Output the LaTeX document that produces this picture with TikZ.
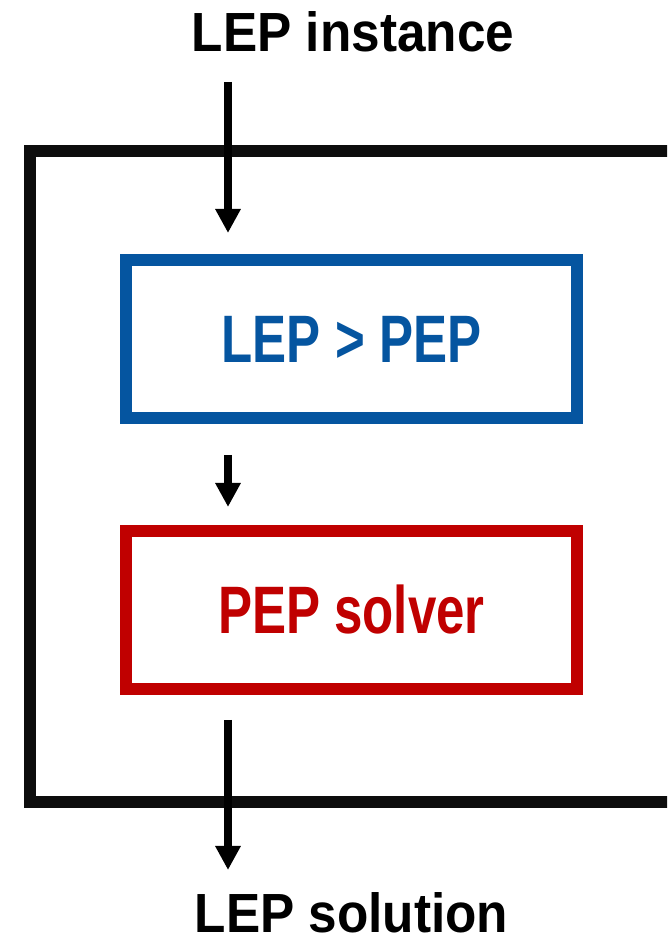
\documentclass[tikz,border=0pt]{standalone}
\usepackage{fontspec}
\usepackage{tikz}
\usetikzlibrary{arrows.meta, positioning}
\newfontfamily\lblfont[FakeStretch=0.93]{Liberation Sans}
\newfontfamily\boxfont[FakeStretch=0.76]{Liberation Sans}
\definecolor{mBlue}{HTML}{0555A0}
\definecolor{mRed}{HTML}{C00000}
\definecolor{mFrame}{HTML}{0D0D0D}

\begin{document}
\begin{tikzpicture}[>={Triangle[length=2.4mm, width=2.4mm]},
      flow/.style={->, line width=0.8mm},
      stage/.style={draw, line width=1.2mm, minimum width=4.51cm,
                    minimum height=1.58cm, inner sep=0pt,
                    font=\boxfont\bfseries\fontsize{19.1}{20}\selectfont,
                    text height=0.48cm, text depth=0pt},
      io/.style={font=\lblfont\bfseries\fontsize{15.7}{17}\selectfont, anchor=base}]
    \useasboundingbox (0,0) rectangle (6.67,9.48);
    \clip (0,0) rectangle (6.67,9.48);
    % outer frame, open past the right edge
    \draw[mFrame, line width=1.2mm] (7.2,1.46) -- (0.30,1.46) -- (0.30,7.97) -- (7.2,7.97);

    \node[io] (inst) at (3.53,8.96) {LEP instance};
    \node[stage, mBlue] (conv) at (3.515,6.09) {LEP > PEP};
    \node[stage, mRed, below=1.01cm of conv] (solve) {PEP solver};
    \node[io] (sol) at (3.515,0.15) {LEP solution};

    \coordinate (in1) at (2.28,8.66);
    \coordinate (in2) at (2.28,7.15);
    \coordinate (mid1) at (2.28,4.93);
    \coordinate (mid2) at (2.28,4.41);
    \coordinate (out1) at (2.28,2.28);
    \coordinate (out2) at (2.28,0.78);
    \draw[flow] (in1) -- (in2);
    \draw[flow] (mid1) -- (mid2);
    \draw[flow] (out1) -- (out2);
  \end{tikzpicture}
\end{document}
